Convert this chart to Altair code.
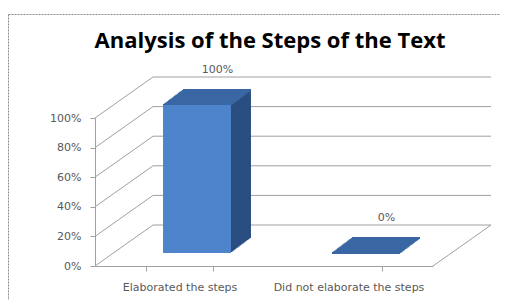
import altair as alt
import pandas as pd

title = "Analysis of the Steps of the Text"
categories = ["Elaborated the steps", "Did not elaborate the steps"]
values = [1.0, 0.0]
y_ticks = [0.0, 0.2, 0.4, 0.6, 0.8, 1.0]

W, H = 338, 148
WALL_DX, WALL_DY = 58, -41
BAR_X0, BAR_Y0 = 17.5, -13
BAR_DX, BAR_DY = 20, -15
N = 16

FRONT = "#4d84cc"
TOP = "#3a67a4"
SIDE = "#2a4e80"
GRID = "#a0a0a0"
TXT = "#595959"
FONT = "DejaVu Sans"

bars = pd.DataFrame({"cat": categories, "value": values})
grid = pd.DataFrame({"value": y_ticks})
one = pd.DataFrame({"value": [0.0]})
ttl = pd.DataFrame({"t": [title]})

yscale = alt.Scale(domain=[0, 1], nice=False)
y_axis = alt.Axis(values=y_ticks, format=".0%", title=None, grid=False,
                  domainColor=GRID, tickColor=GRID, tickSize=5, labelPadding=9,
                  labelColor=TXT, labelFont=FONT, labelFontSize=11)
Y = alt.Y("value:Q", scale=yscale, axis=y_axis)
X = alt.X("cat:N", sort=categories,
          scale=alt.Scale(paddingInner=0.598, paddingOuter=0.299),
          axis=alt.Axis(title=None, labelAngle=0, tickBand="extent",
                        domainColor=GRID, tickColor=GRID, tickSize=5,
                        labelPadding=10, labelColor=TXT, labelFont=FONT,
                        labelFontSize=11, grid=False))

layers = []
# frame (top and left edges only; the rest lies outside the picture)
frame_style = dict(color="#8c8c8c", strokeDash=[2, 1], strokeWidth=1)
layers.append(alt.Chart(one).mark_rule(**frame_style).encode(
    x=alt.value(-86.5), x2=alt.value(420), y=alt.value(-103.5)))
layers.append(alt.Chart(one).mark_rule(**frame_style).encode(
    x=alt.value(-86.5), y=alt.value(-103.5), y2=alt.value(200)))
# title
layers.append(alt.Chart(ttl).mark_text(font="Open Sans", fontSize=22, fontWeight="bold", color="#000000",
                                       align="center", baseline="alphabetic").encode(
    text="t:N", x=alt.value(W / 2 + 6), y=alt.value(-70)))
# back wall grid
layers.append(alt.Chart(grid).mark_rule(color=GRID, strokeWidth=1, xOffset=WALL_DX, x2Offset=WALL_DX,
                                         yOffset=WALL_DY).encode(
    y=Y, x=alt.value(0), x2=alt.value(W)))
# left wall diagonals
layers.append(alt.Chart(grid).mark_rule(color=GRID, strokeWidth=1, x2Offset=WALL_DX, y2Offset=WALL_DY).encode(
    y=Y, y2="value:Q", x=alt.value(0), x2=alt.value(0)))
# floor right edge
layers.append(alt.Chart(one).mark_rule(color=GRID, strokeWidth=1, x2Offset=WALL_DX, y2Offset=WALL_DY).encode(
    y=Y, y2="value:Q", x=alt.value(W), x2=alt.value(W)))

# side extrusion
for k in range(N, 0, -1):
    ox = BAR_X0 + BAR_DX * k / N
    oy = BAR_Y0 + BAR_DY * k / N
    layers.append(alt.Chart(bars).mark_bar(color=SIDE, xOffset=ox, x2Offset=ox, yOffset=oy, y2Offset=oy).encode(
        x=X, y=Y))
# top face
for k in range(N, -1, -1):
    ox = BAR_X0 + BAR_DX * k / N
    oy = BAR_Y0 + BAR_DY * k / N
    layers.append(alt.Chart(bars).mark_tick(color=TOP, size=68, thickness=2, opacity=1,
                                            xOffset=ox, yOffset=oy).encode(x=X, y=Y))
# front face
layers.append(alt.Chart(bars).mark_bar(color=FRONT, xOffset=BAR_X0, x2Offset=BAR_X0,
                                       yOffset=BAR_Y0, y2Offset=BAR_Y0).encode(x=X, y=Y))
# data labels
layers.append(alt.Chart(bars).mark_text(font=FONT, fontSize=11, color=TXT, dx=38, dy=-45,
                                        baseline="alphabetic").encode(
    x=X, y=Y, text=alt.Text("value:Q", format=".0%")))

chart = alt.layer(*layers).properties(
    width=W, height=H,
    padding={"left": 87, "top": 110, "right": 67, "bottom": 34},
    autosize=alt.AutoSizeParams(type="none"),
).configure_view(stroke=None)

chart.save("out.html", embed_options={"renderer": "svg", "actions": False})
